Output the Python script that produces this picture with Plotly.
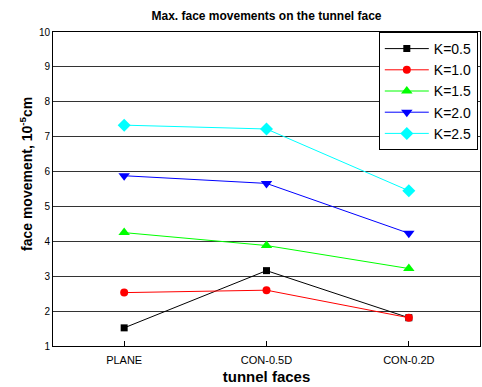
import plotly.graph_objects as go

faces = ["PLANE", "CON-0.5D", "CON-0.2D"]
k_labels = ["K=0.5", "K=1.0", "K=1.5", "K=2.0", "K=2.5"]
k05 = [1.52, 3.16, 1.81]
k10 = [2.53, 2.60, 1.81]
k15 = [4.25, 3.88, 3.22]
k20 = [5.88, 5.66, 4.23]
k25 = [7.33, 7.22, 5.45]

series = [k05, k10, k15, k20, k25]
colors = ["#000000", "#ff0000", "#00ff00", "#0000ff", "#00ffff"]
symbols = ["square", "circle", "triangle-up", "triangle-down", "diamond"]
sizes = [7, 8, 10, 10, 10]

fig = go.Figure()
for name, vals, col, sym, sz in zip(k_labels, series, colors, symbols, sizes):
    fig.add_trace(go.Scatter(
        x=list(range(len(faces))), y=vals, name=name, mode="lines+markers",
        line=dict(color=col, width=1),
        marker=dict(symbol=sym, size=sz, color=col),
    ))

fig.update_layout(
    width=482, height=387,
    margin=dict(l=53, r=2, t=32, b=41),
    paper_bgcolor="white", plot_bgcolor="white",
    font=dict(family="Liberation Sans, Arial, sans-serif", color="black"),
    title=dict(text="<b>Max. face movements on the tunnel face</b>",
               x=(53 + 480) / 2 / 482, xanchor="center", y=1 - 16 / 387, yanchor="middle",
               font=dict(size=12)),
    showlegend=True,
    legend=dict(x=0.763, xanchor="left", y=1, yanchor="top",
                bordercolor="black", borderwidth=1, bgcolor="white",
                font=dict(size=14), tracegroupgap=0, itemsizing="trace",
                itemwidth=44),
)
fig.update_xaxes(
    range=[-0.5, 2.5], tickmode="array", tickvals=list(range(len(faces))), ticktext=faces,
    ticks="inside", ticklen=5, tickcolor="black", showgrid=False,
    showline=True, linecolor="black", linewidth=1, mirror=True,
    tickfont=dict(size=11), zeroline=False, ticklabelstandoff=4,
    title=dict(text="<b>tunnel faces</b>", font=dict(size=15), standoff=6),
)
fig.update_yaxes(
    range=[1, 10], dtick=1, tick0=1, showgrid=True, gridcolor="#333333", gridwidth=1,
    showline=True, linecolor="black", linewidth=1, mirror=True, ticks="",
    tickfont=dict(size=10), zeroline=False,
)
fig.add_annotation(
    text="<b>face movement, 10<sup>-5</sup>cm</b>", textangle=-90,
    xref="paper", yref="paper", x=-27 / 427, y=(346 - 174) / 314,
    xanchor="center", yanchor="middle", showarrow=False, font=dict(size=14),
)

fig.write_html("out.html")
